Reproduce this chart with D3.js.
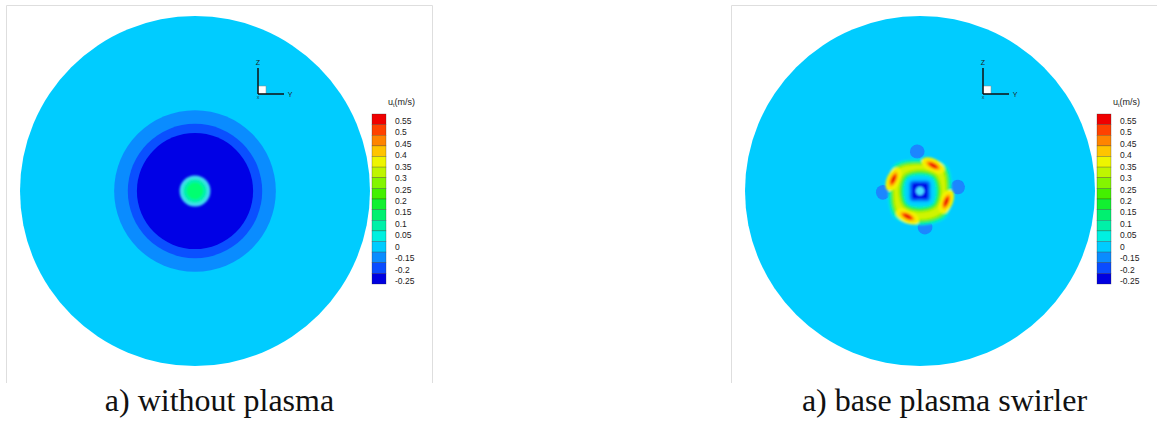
<!DOCTYPE html>
<html><head><meta charset="utf-8">
<script src="https://cdn.jsdelivr.net/npm/d3@7"></script>
<style>html,body{margin:0;padding:0;background:#fff;}svg{display:block;}</style>
</head><body>
<svg id="chart" width="1157" height="422"></svg>
<script>
// ---------------- DATA ----------------
const captions = ["a) without plasma", "a) base plasma swirler"];
const legendLabels = ["0.55","0.5","0.45","0.4","0.35","0.3","0.25","0.2","0.15","0.1","0.05","0","-0.15","-0.2","-0.25"];
const legendColors = ["#f00000","#ff4200","#ff8400","#ffc400","#eef500","#bff500","#84f500","#44f000","#12f030","#00f070","#00f0a8","#00f0e0","#00ccff","#0a8cff","#0a4cff","#0000e0"];
const pipeRadius = 50;                 // mm, domain of radial scale
// case a) without plasma : concentric contour discs (radius mm, level colour)
const plainRadii  = [50, 23.1, 19.2, 16.6];
const plainColors = ["#00ccff", "#0a8cff", "#0a50ff", "#0000e6"];
const coreRadii   = [4.4, 3.4, 2.4];
const coreColors  = ["#40dcf0", "#00f0b0", "#00ff70"];
// case b) base plasma swirler
const bandAngles = [0, 45, 90, 135, 180, 225, 270, 315];  // deg, clockwise from +Z
const swirlBands = [
  {color:"#00ecd8", r:[9.1,10.6,9.1,10.6,9.8,10.6,9.1,10.6]},
  {color:"#10f070", r:[8.6,10.0,8.6,10.0,9.3,10.0,8.6,10.0]},
  {color:"#80f000", r:[8.0,9.4,8.0,9.4,8.7,9.4,8.0,9.4]},
  {color:"#d0f400", r:[7.4,8.7,7.4,8.7,8.1,8.7,7.4,8.7]},
  {color:"#9af000", r:[6.2,6.7,6.2,6.7,6.2,6.7,6.2,6.7]},
  {color:"#20f040", r:[5.6,6.1,5.6,6.1,5.6,6.1,5.6,6.1]},
  {color:"#00ecd0", r:[4.9,5.4,4.9,5.4,4.9,5.4,4.9,5.4]},
  {color:"#00d0ff", r:[4.2,4.9,4.2,4.9,4.2,4.9,4.2,4.9]},
  {color:"#0078ff", r:[3.0,3.8,3.0,3.8,3.0,3.8,3.0,3.8]},
  {color:"#0010e8", r:[2.3,3.0,2.3,3.0,2.3,3.0,2.3,3.0]},
  {color:"#48dcff", r:[1.2,1.2,1.2,1.2,1.2,1.2,1.2,1.2]}
];
const lobeAngles = [-4, 84, 172, 268];          // deg
const lobeDist   = [11.3, 10.9, 10.5, 10.6];    // mm
const lobeRadius = 2.1;                          // mm
const lobeColor  = "#1a86ff";
const hotAngles  = [27, 112, 206, 294];          // deg
const hotDist    = [8.2, 8.1, 8.1, 8.3];         // mm
const hotLayers  = [
  {color:"#f4f200", a:3.6, b:1.9},
  {color:"#ffc000", a:2.4, b:1.1},
  {color:"#ff5000", a:1.7, b:0.7},
  {color:"#e81000", a:1.0, b:0.4}
];

// ---------------- LAYOUT ----------------
const svg = d3.select("#chart");
const panelX = [0, 725];
const cx = 195, cy = 191, Rpx = 175;
const rScale = d3.scaleLinear().domain([0, pipeRadius]).range([0, Rpx]);

const defs = svg.append("defs");
defs.append("filter").attr("id","blur").attr("x","-50%").attr("y","-50%").attr("width","200%").attr("height","200%")
  .append("feGaussianBlur").attr("stdDeviation", 1.0);
defs.append("filter").attr("id","blurS").attr("x","-50%").attr("y","-50%").attr("width","200%").attr("height","200%")
  .append("feGaussianBlur").attr("stdDeviation", 0.5);

const radial = d3.lineRadial().curve(d3.curveCardinalClosed.tension(0))
  .angle(d => d[0] * Math.PI / 180).radius(d => rScale(d[1]));

function polar(angDeg, dist) {
  const a = angDeg * Math.PI / 180;
  return [rScale(dist) * Math.sin(a), -rScale(dist) * Math.cos(a)];
}

panelX.forEach((ox, pi) => {
  const g = svg.append("g").attr("transform", `translate(${ox},0)`);
  // frame
  g.append("path").attr("d", "M6.5,383V5.5H432.5V383").attr("fill","none").attr("stroke","#dedede").attr("stroke-width",1);

  const plot = g.append("g").attr("transform", `translate(${cx},${cy})`);
  if (pi === 0) {
    plot.selectAll("circle.band").data(plainRadii).join("circle").attr("class","band")
      .attr("r", d => rScale(d)).attr("fill", (d,i) => plainColors[i]);
    plot.append("g").attr("filter","url(#blur)")
      .selectAll("circle").data(coreRadii).join("circle")
      .attr("r", d => rScale(d)).attr("fill", (d,i) => coreColors[i]);
  } else {
    plot.append("circle").attr("r", rScale(plainRadii[0])).attr("fill", plainColors[0]);
    plot.append("g").attr("filter","url(#blurS)")
      .selectAll("ellipse.lobe").data(lobeAngles).join("ellipse").attr("class","lobe")
      .attr("transform", (d,i) => `translate(${polar(d, lobeDist[i])}) rotate(${d})`)
      .attr("rx", rScale(lobeRadius)).attr("ry", rScale(lobeRadius) * 0.95).attr("fill", lobeColor);
    const pat = plot.append("g").attr("filter","url(#blur)");
    swirlBands.slice(0,4).forEach(b => {
      pat.append("path").attr("d", radial(bandAngles.map((a,i) => [a, b.r[i]]))).attr("fill", b.color);
    });
    hotAngles.forEach((a, i) => {
      const p = polar(a, hotDist[i]);
      const hg = pat.append("g").attr("transform", `translate(${p[0]},${p[1]}) rotate(${a})`);
      hotLayers.forEach(l => {
        hg.append("ellipse").attr("rx", rScale(l.a)).attr("ry", rScale(l.b)).attr("fill", l.color);
      });
    });
    swirlBands.slice(4).forEach(b => {
      pat.append("path").attr("d", radial(bandAngles.map((a,i) => [a, b.r[i]]))).attr("fill", b.color);
    });
  }

  // axis triad
  const t = g.append("g").attr("transform","translate(258,94)");
  t.append("rect").attr("x",0).attr("y",-8).attr("width",8).attr("height",8).attr("fill","#fff").attr("stroke","#888").attr("stroke-width",0.5);
  t.append("line").attr("x1",0).attr("y1",0).attr("x2",0).attr("y2",-26).attr("stroke","#111").attr("stroke-width",1.5);
  t.append("line").attr("x1",0).attr("y1",0).attr("x2",26).attr("y2",0).attr("stroke","#111").attr("stroke-width",1.5);
  t.append("text").attr("x",0).attr("y",-29).attr("text-anchor","middle").attr("font-family","Liberation Sans, Arial").attr("font-size",7).attr("fill","#222").text("Z");
  t.append("text").attr("x",32).attr("y",2.5).attr("text-anchor","middle").attr("font-family","Liberation Sans, Arial").attr("font-size",7).attr("fill","#222").text("Y");
  t.append("text").attr("x",0).attr("y",4.5).attr("text-anchor","middle").attr("font-family","Liberation Sans, Arial").attr("font-size",4).attr("fill","#222").text("X");

  // legend
  const lg = g.append("g");
  const band = d3.scaleBand().domain(d3.range(legendColors.length)).range([114, 284]);
  lg.selectAll("rect").data(legendColors).join("rect")
    .attr("x", 372).attr("y", (d,i) => band(i)).attr("width", 14).attr("height", band.bandwidth())
    .attr("fill", d => d).attr("stroke","rgba(40,40,40,0.55)").attr("stroke-width",0.5);
  const lp = d3.scalePoint().domain(legendLabels).range([121, 281]);
  lg.selectAll("text.lab").data(legendLabels).join("text").attr("class","lab")
    .attr("x", 395).attr("y", d => lp(d)).attr("dy","0.35em")
    .attr("font-family","Liberation Sans, Arial").attr("font-size",8.5).attr("fill","#222").text(d => d);
  const title = lg.append("text").attr("x",388).attr("y",105)
    .attr("font-family","Liberation Sans, Arial").attr("font-size",9).attr("fill","#222");
  title.append("tspan").text("u");
  title.append("tspan").attr("font-size",5.5).attr("dy",1.5).text("t");
  title.append("tspan").attr("dy",-1.5).text("(m/s)");

  // caption
  g.append("text").attr("x", 219.5).attr("y", 411).attr("text-anchor","middle")
    .attr("font-family","Liberation Serif, Times New Roman, serif").attr("font-size",32).attr("fill","#111")
    .text(captions[pi]);
});
</script>
</body></html>
